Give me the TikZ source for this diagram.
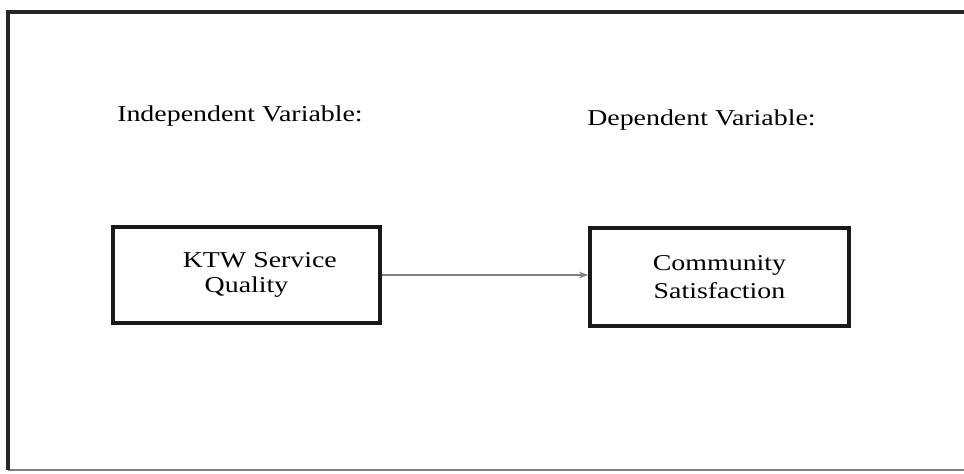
\documentclass[tikz,border=0pt]{standalone}
\usepackage{fontspec}
\setmainfont[FakeStretch=1.23]{Liberation Serif}
\usetikzlibrary{arrows.meta}
\begin{document}
\begin{tikzpicture}[x=0.75pt,y=-0.75pt,
  varbox/.style={draw=black!90,line width=2.6pt,minimum width=265*0.75pt,inner sep=0pt,align=center,font=\fontsize{17}{18.75}\selectfont},
  lbl/.style={anchor=base west,inner sep=0pt,font=\fontsize{17}{18.75}\selectfont},
  link/.style={draw=black!50,line width=0.9pt,-{Stealth[length=7pt,width=5pt,open,fill=white]}}]
\useasboundingbox (0,0) rectangle (964,474);
\clip (0,0) rectangle (964,474);
\coordinate (tl) at (8,12);
\coordinate (tr) at (970,12);
\coordinate (bl) at (8,470);
\coordinate (br) at (970,470);
\draw[black!50,line width=1.2pt] (bl) -- (br);
\draw[black!85,line width=2.4pt] (bl) -- (tl) -- (tr);
\node[lbl] (iv) at (117,122) {Independent Variable:};
\node[lbl] (dv) at (587,126) {Dependent Variable:};
\node[varbox,minimum width=267*0.75pt,minimum height=96*0.75pt] (ktw) at (246.5,275) {\hspace*{20pt}KTW Service\\Quality};
\node[varbox,minimum width=259*0.75pt,minimum height=98*0.75pt] (cs) at (719.5,277) {Community\\[2.25pt]Satisfaction};
\draw[link] (ktw.east |- 0,275) -- (cs.west |- 0,275);
\end{tikzpicture}
\end{document}
